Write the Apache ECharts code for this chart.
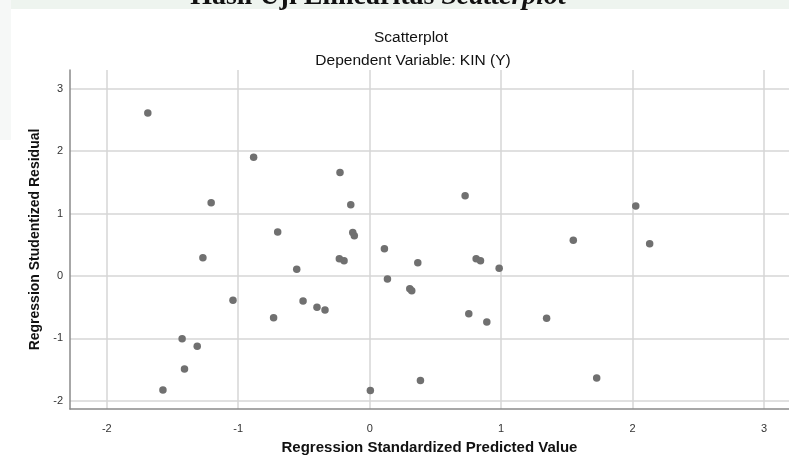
<!DOCTYPE html>
<html>
<head>
<meta charset="utf-8">
<script src="https://cdn.jsdelivr.net/npm/echarts@6/dist/echarts.min.js"></script>
<style>
html,body{margin:0;padding:0;background:#fff;}
#chart{width:789px;height:465px;}
</style>
</head>
<body>
<div id="chart"></div>
<script>
var xValues = [-1.688,-0.883,-0.226,-1.206,-0.144,-0.700,-0.129,-0.117,0.726,2.024,
  0.112,0.366,-1.269,-0.555,-0.231,-0.195,0.135,0.305,0.320,-1.040,
  -0.507,-0.401,-0.340,-0.731,-1.427,-1.312,-1.409,-1.573,0.005,0.386,
  1.549,2.130,0.810,0.843,0.985,0.754,0.891,1.346,1.727];
var yValues = [2.613,1.904,1.659,1.173,1.141,0.704,0.699,0.645,1.285,1.120,
  0.437,0.213,0.293,0.107,0.277,0.245,-0.048,-0.203,-0.235,-0.389,
  -0.400,-0.501,-0.544,-0.667,-1.003,-1.125,-1.488,-1.824,-1.835,-1.675,
  0.571,0.517,0.277,0.245,0.123,-0.603,-0.736,-0.677,-1.632];
var xTicks = [-2,-1,0,1,2,3];
var yTicks = [-2,-1,0,1,2,3];
var pageHeading = 'Hasil Uji Elinearitas ';
var pageHeadingItalic = 'Scatterplot';
var chartTitle = 'Scatterplot';
var chartSubtitle = 'Dependent Variable: KIN (Y)';
var xName = 'Regression Standardized Predicted Value';
var yName = 'Regression Studentized Residual';

var points = xValues.map(function(x,i){return [x,yValues[i]];});
var chart = echarts.init(document.getElementById('chart'));
var gridColor = '#d6d6d6';
chart.setOption({
  animation:false,
  backgroundColor:'#ffffff',
  graphic:[
    {type:'rect',shape:{x:0,y:0,width:789,height:9},style:{fill:'#eef4ef'},z:0},
    {type:'rect',shape:{x:0,y:0,width:11,height:140},style:{fill:'#f6f8f7'},z:0},
    {type:'text',z:1,style:{text:'{a|'+pageHeading+'}{b|'+pageHeadingItalic+'}',x:378,y:11,align:'center',verticalAlign:'bottom',
      rich:{a:{font:'bold 28px "Liberation Serif"',fill:'#111'},b:{font:'italic bold 28px "Liberation Serif"',fill:'#111'}}}},
    {type:'text',style:{text:chartTitle,x:411,y:38,align:'center',verticalAlign:'middle',font:'15.5px "Liberation Sans"',fill:'#111'}},
    {type:'text',style:{text:chartSubtitle,x:413,y:61,align:'center',verticalAlign:'middle',font:'15.5px "Liberation Sans"',fill:'#111'}}
  ],
  grid:{left:70,top:70,right:0,bottom:56,containLabel:false},
  xAxis:{type:'value',min:-2.28,max:3.19,
    name:xName,nameLocation:'middle',nameGap:31,
    nameTextStyle:{fontFamily:'Liberation Sans',fontSize:15,fontWeight:'bold',color:'#111',verticalAlign:'top'},
    axisLine:{show:true,onZero:false,lineStyle:{color:'#8a8a8a',width:1.5}},
    axisTick:{show:false,customValues:xTicks},
    axisLabel:{customValues:xTicks,margin:14,fontFamily:'Liberation Sans',fontSize:11,color:'#333'},
    splitLine:{show:true,lineStyle:{color:gridColor,width:1.5}}},
  yAxis:{type:'value',min:-2.13,max:3.3,
    name:yName,nameLocation:'middle',nameGap:28,
    nameTextStyle:{fontFamily:'Liberation Sans',fontSize:14,fontWeight:'bold',color:'#111'},
    axisLine:{show:true,onZero:false,lineStyle:{color:'#8a8a8a',width:1.5}},
    axisTick:{show:false,customValues:yTicks},
    axisLabel:{customValues:yTicks,margin:7,fontFamily:'Liberation Sans',fontSize:11,color:'#333'},
    splitLine:{show:true,lineStyle:{color:gridColor,width:1.5}}},
  series:[{type:'scatter',data:points,symbol:'circle',symbolSize:7.5,
    itemStyle:{color:'#707070',opacity:1},z:5}]
});
</script>
</body>
</html>
